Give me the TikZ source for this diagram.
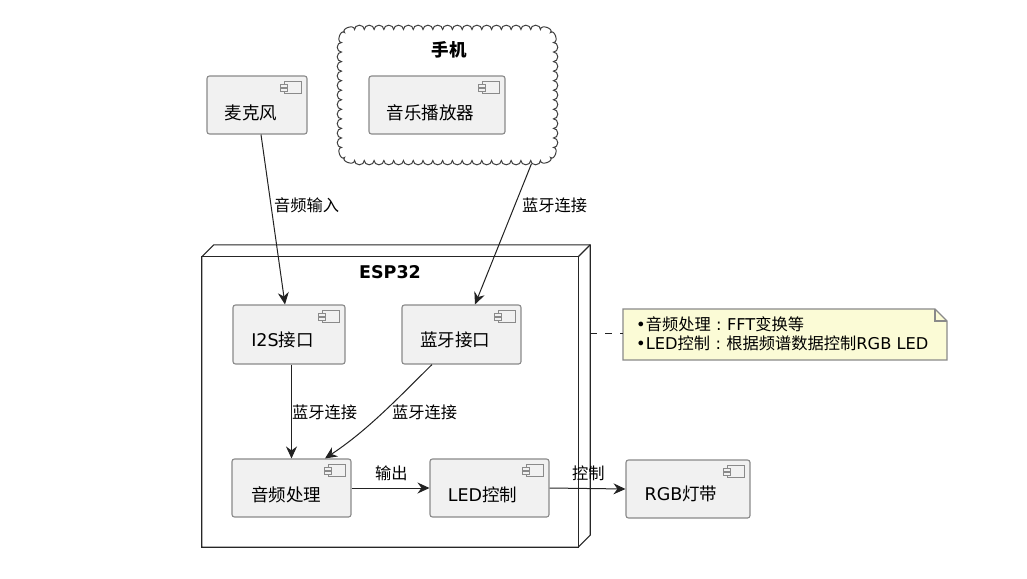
\documentclass[tikz,border=0pt]{standalone}
\usepackage{fontspec}
\setmainfont{DejaVu Sans}
\newfontfamily\cjk{Noto Sans CJK SC}
\usetikzlibrary{arrows.meta,calc}
\newcommand\zh[1]{{\cjk #1}}
\newcommand\zcolon{\makebox[1em][c]{:}}
\definecolor{compfill}{HTML}{F1F1F1}
\definecolor{compline}{HTML}{8A8A8A}
\definecolor{edgecol}{HTML}{222222}
\definecolor{notefill}{HTML}{FBFBD6}
\tikzset{
  comp/.style={draw=compline, fill=compfill, line width=1.1pt, rounded corners=2.5pt, inner sep=0pt},
  iconst/.style={draw=compline, fill=compfill, line width=0.9pt},
  ctext/.style={inner sep=0pt, font=\fontsize{17.5}{21}\selectfont},
  ltext/.style={inner sep=0pt, anchor=west, font=\fontsize{16.25}{19}\selectfont},
  edge/.style={draw=edgecol, line width=1pt, -{Stealth[length=12pt,width=11pt,inset=4pt]}},
  nodeline/.style={draw=black!85, line width=1.1pt},
  cloudst/.style={draw=black!75, fill=white, line width=1pt},
  notest/.style={draw=compline, fill=notefill, line width=1.1pt},
}
\newcommand\compicon[1]{%
  \draw[iconst] ($(#1.north east)+(-23,6)$) rectangle ($(#1.north east)+(-6,18)$);
  \draw[iconst] ($(#1.north east)+(-27,8.5)$) rectangle ($(#1.north east)+(-20,11.5)$);
  \draw[iconst] ($(#1.north east)+(-27,13)$) rectangle ($(#1.north east)+(-20,16)$);
}
\begin{document}
\begin{tikzpicture}[x=1pt,y=-1pt]
\useasboundingbox (0,0) rectangle (1027,578);
\fill[white] (0,0) rectangle (1027,578);

% cloud
\node[minimum width=214pt, minimum height=133pt, inner sep=0pt] (phone) at (447.5,95) {};
\draw[cloudst] (354.5,29.5)
  \foreach \i in {1,...,19} { arc[start angle=180, end angle=0, x radius=4.895pt, y radius=4.3pt] }
  .. controls (540.5,23.8) and (554.4,28.6) .. (550.4,32.6)
  .. controls (554.4,28.6) and (559.2,42.5) .. (553.5,42.5)
  \foreach \i in {1,...,11} { arc[start angle=90, end angle=-90, x radius=4.3pt, y radius=4.773pt] }
  .. controls (559.2,147.5) and (554.4,161.4) .. (550.4,157.4)
  .. controls (554.4,161.4) and (540.5,166.2) .. (540.5,160.5)
  \foreach \i in {1,...,19} { arc[start angle=0, end angle=-180, x radius=4.895pt, y radius=4.3pt] }
  .. controls (354.5,166.2) and (340.6,161.4) .. (344.6,157.4)
  .. controls (340.6,161.4) and (335.8,147.5) .. (341.5,147.5)
  \foreach \i in {1,...,11} { arc[start angle=-90, end angle=-270, x radius=4.3pt, y radius=4.773pt] }
  .. controls (335.8,42.5) and (340.6,28.6) .. (344.6,32.6)
  .. controls (340.6,28.6) and (354.5,23.8) .. (354.5,29.5) -- cycle;
\node[ctext, font=\fontsize{17.5}{21}\selectfont\bfseries\cjk] (phoneT) at (449,50) {手机};

% ESP32 node
\node[minimum width=376pt, minimum height=290pt, inner sep=0pt] (esp) at (390,402) {};
\draw[nodeline, fill=white] (esp.north west) -- ++(12,-12) -- ($(esp.north east)+(12,-12)$) -- ($(esp.south east)+(12,-12)$) -- (esp.south east) -- (esp.south west) -- cycle;
\draw[nodeline] (esp.north west) rectangle (esp.south east);
\draw[nodeline] (esp.north east) -- ++(12,-12);
\node[inner sep=0pt, font=\fontsize{17.5}{21}\selectfont\bfseries] (espT) at (390,272) {ESP32};

% components
\node[comp, minimum width=100pt, minimum height=58pt] (mic) at (257,105) {};
\node[comp, minimum width=136pt, minimum height=58pt] (player) at (437,105) {};
\node[comp, minimum width=112pt, minimum height=59pt] (i2s) at (289,334.5) {};
\node[comp, minimum width=119pt, minimum height=59pt] (bt) at (461.5,334.5) {};
\node[comp, minimum width=119pt, minimum height=58pt] (audio) at (291.5,488) {};
\node[comp, minimum width=119pt, minimum height=58pt] (led) at (489.5,488) {};
\node[comp, minimum width=124pt, minimum height=58pt] (rgb) at (688,489) {};
\foreach \n in {mic,player,i2s,bt,audio,led,rgb} {\compicon{\n}}

\node[ctext] (micT) at (251,113) {\zh{麦克风}};
\node[ctext] (playerT) at (430.5,113) {\zh{音乐播放器}};
\node[ctext] (i2sT) at (282.5,340) {I2S\zh{接口}};
\node[ctext] (btT) at (455,340) {\zh{蓝牙接口}};
\node[ctext] (audioT) at (286,495) {\zh{音频处理}};
\node[ctext] (ledT) at (482.5,495) {LED\zh{控制}};
\node[ctext] (rgbT) at (681,494) {RGB\zh{灯带}};

% note
\coordinate (nNW) at (623,309);
\coordinate (nSE) at (947,360);
\draw[notest] (nNW) -- (935,309) -- (947,321) -- (nSE) -- (623,360) -- cycle;
\draw[notest, fill=none] (935,309) -- (935,321) -- (947,321);
\node[ltext] (note1) at (636,324) {•\zh{音频处理}\zcolon FFT\zh{变换等}};
\node[ltext] (note2) at (636,343) {•LED\zh{控制}\zcolon\zh{根据频谱数据控制}RGB LED};
\coordinate (noteL) at (623,333);
\coordinate (espR) at (590,333);
\draw[draw=edgecol, line width=1pt, dash pattern=on 7pt off 8pt] (espR) -- (noteL);

% edges
\draw[edge] ($(mic.south)+(4,0)$) -- ($(i2s.north)+(-4,0)$);
\draw[edge] ($(phone.south)+(84,2)$) -- ($(bt.north)+(13.5,0)$);
\draw[edge] (i2s.south -| audio.north) -- (audio.north);
\draw[edge] ($(bt.south)+(-29.5,0)$) .. controls (398,398) and (368,430) .. ($(audio.north)+(33.5,0)$);
\draw[edge] (audio.east) -- (led.west);
\draw[edge] (led.east) -- (rgb.west);

\node[ltext] (l1) at (274,205) {\zh{音频输入}};
\node[ltext] (l2) at (522,205) {\zh{蓝牙连接}};
\node[ltext] (l3) at (292,412) {\zh{蓝牙连接}};
\node[ltext] (l4) at (392,412) {\zh{蓝牙连接}};
\node[ltext] (l5) at (375,473) {\zh{输出}};
\node[ltext] (l6) at (572,473) {\zh{控制}};
\end{tikzpicture}
\end{document}
